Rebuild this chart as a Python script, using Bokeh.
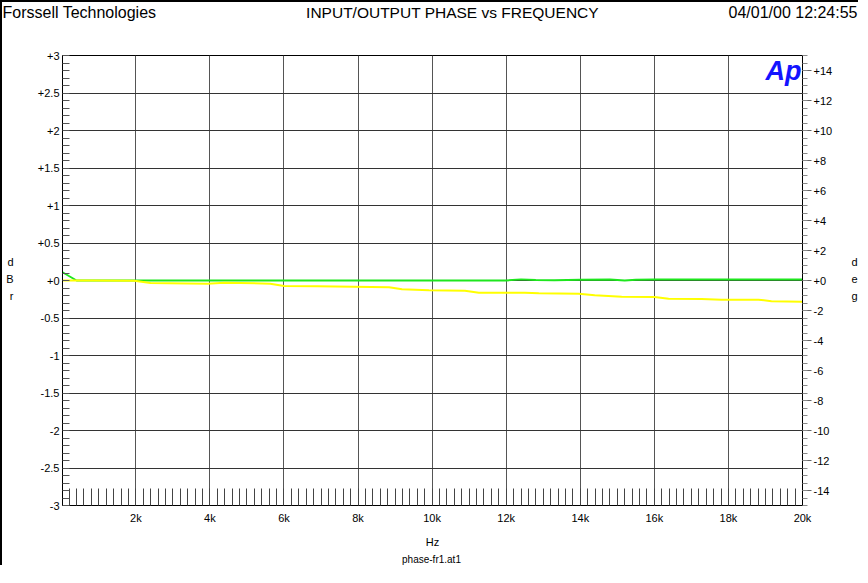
from bokeh.plotting import figure
from bokeh.layouts import column
from bokeh.models import Range1d, LinearAxis, FixedTicker, Label
from bokeh.embed import file_html
from bokeh.resources import INLINE
from bokeh.core.properties import value

# ---------------- data ----------------
green_hz = [20, 400, 1000, 2000, 4000, 6000, 8000, 10000, 12000, 12400, 12800,
            13300, 14000, 14800, 15200, 15500, 16000, 18000, 20000]
green_dbr = [0.11, 0.0, 0.0, 0.0, 0.0, 0.0, 0.0, 0.0, 0.0, 0.015, 0.008,
             0.004, 0.01, 0.012, 0.0, 0.01, 0.012, 0.012, 0.012]

yellow_hz = [20, 829, 1961, 2393, 3929, 4388, 5628, 6005, 6895, 8836, 9187, 9914,
             10885, 11262, 12502, 12880, 13958, 14390, 15118, 16007, 16385, 17274,
             17814, 18811, 19162, 20000]
yellow_deg = [0.0, 0.0, -0.02, -0.17, -0.21, -0.15, -0.21, -0.37, -0.39, -0.45, -0.59,
              -0.65, -0.68, -0.81, -0.81, -0.85, -0.88, -0.98, -1.08, -1.10, -1.21,
              -1.23, -1.28, -1.28, -1.38, -1.41]

x_ticks = [2000, 4000, 6000, 8000, 10000, 12000, 14000, 16000, 18000, 20000]
x_labels = ["2k", "4k", "6k", "8k", "10k", "12k", "14k", "16k", "18k", "20k"]
left_ticks = [-3.0, -2.5, -2.0, -1.5, -1.0, -0.5, 0.0, 0.5, 1.0, 1.5, 2.0, 2.5, 3.0]
left_labels = ["-3", "-2.5", "-2", "-1.5", "-1", "-0.5", "+0", "+0.5", "+1", "+1.5",
               "+2", "+2.5", "+3"]
right_ticks = [-14, -12, -10, -8, -6, -4, -2, 0, 2, 4, 6, 8, 10, 12, 14]
right_labels = ["-14", "-12", "-10", "-8", "-6", "-4", "-2", "+0", "+2", "+4", "+6",
                "+8", "+10", "+12", "+14"]

header_left = "Forssell Technologies"
header_title = "INPUT/OUTPUT PHASE vs FREQUENCY"
header_date = "04/01/00 12:24:55"
x_name = "Hz"
file_name = "phase-fr1.at1"
left_unit = ["d", "B", "r"]
right_unit = ["d", "e", "g"]
logo = "Ap"

# ---------------- layout (page pixels) ----------------
OX = 10                 # page x of canvas left (after 2px border)
HY = 10                 # page y of header canvas top (after 2px border)
W = 858
HH = 45                 # header canvas height
HM = 505                # main canvas height
HF = 567 - 2 - HH - HM  # footer canvas height
MY = HY + HH            # page y of main canvas top
FY = MY + HM            # page y of footer canvas top
FL, FR, FT, FB = 70, 811, 65, 516   # frame edges in page pixels
X0, X1 = 20, 20000
Y0, Y1 = -3, 3
FONT = "Liberation Sans"


def hz(xp):
    return X0 + (xp - FL) * (X1 - X0) / (FR - FL)


def dbr(yp):
    return Y1 - (yp - FT) * (Y1 - Y0) / (FB - FT)


def no_align(fig):
    if "frame_align" in fig.properties():
        fig.frame_align = False


def strip(height, top, styles):
    f = figure(width=W, height=height, x_range=Range1d(OX, OX + W),
               y_range=Range1d(top + height, top), output_backend="svg",
               toolbar_location=None, x_axis_type=None, y_axis_type=None,
               min_border=0, background_fill_color="white",
               border_fill_color="white")
    f.outline_line_color = None
    f.styles = styles
    no_align(f)
    return f


# ---------------- header strip ----------------
hdr = strip(HH, HY, {"border-left": "2px solid black", "border-top": "2px solid black"})
for txt, xp, al, fs in [(header_left, 10, "left", "16px"),
                        (header_title, 460, "center", "15.5px"),
                        (header_date, 736, "left", "16px")]:
    hdr.text(x=[xp], y=[19.5], text=[txt], text_font=value(FONT),
             text_font_size=fs, text_align=al, text_baseline="middle",
             text_color="black")

# ---------------- footer strip ----------------
ftr = strip(HF, FY, {"border-left": "2px solid black"})
ftr.text(x=[439], y=[568.5], text=[file_name], text_font=value(FONT),
         text_font_size="10px", text_align="center", text_baseline="middle",
         text_color="black")

# ---------------- main plot ----------------
p = figure(width=W, height=HM, x_range=Range1d(X0, X1), y_range=Range1d(Y0, Y1),
           output_backend="svg", toolbar_location=None,
           min_border_left=FL - OX, min_border_right=W - (FR - OX),
           min_border_top=FT - MY, min_border_bottom=HM - (FB - MY),
           background_fill_color="white", border_fill_color="white",
           x_axis_location="below", y_axis_location="left")
p.styles = {"border-left": "2px solid black"}
no_align(p)
p.outline_line_color = "black"
p.outline_line_width = 1
p.extra_y_ranges = {"deg": Range1d(-15, 15)}


def plain(axis, size, standoff):
    axis.axis_line_color = None
    axis.major_tick_line_color = None
    axis.minor_tick_line_color = None
    axis.major_tick_in = 0
    axis.major_tick_out = 0
    axis.minor_tick_in = 0
    axis.minor_tick_out = 0
    axis.major_label_standoff = standoff
    axis.major_label_text_font = FONT
    axis.major_label_text_font_size = size
    axis.major_label_text_color = "black"


# x axis
xa = p.xaxis[0]
xa.ticker = FixedTicker(ticks=x_ticks, minor_ticks=[200 * i for i in range(1, 100)])
xa.major_label_overrides = {t: l for t, l in zip(x_ticks, x_labels)}
xa.axis_line_color = "black"
xa.major_tick_in = 0
xa.major_tick_out = 0
xa.minor_tick_in = 17
xa.minor_tick_out = 0
xa.minor_tick_line_color = "#444444"
xa.major_label_standoff = 6
xa.major_label_text_font = FONT
xa.major_label_text_font_size = "11px"
xa.major_label_text_color = "black"
xa.axis_label = x_name
xa.axis_label_text_font = FONT
xa.axis_label_text_font_size = "11px"
xa.axis_label_text_font_style = "normal"
xa.axis_label_text_color = "black"
xa.axis_label_standoff = 9

# left axis
ya = p.yaxis[0]
ya.ticker = FixedTicker(ticks=left_ticks,
                        minor_ticks=[round(-3 + 0.1 * i, 1) for i in range(61)])
ya.major_label_overrides = {t: l for t, l in zip(left_ticks, left_labels)}
ya.axis_line_color = "black"
ya.major_tick_in = 0
ya.major_tick_out = 0
ya.minor_tick_in = 7
ya.minor_tick_out = 0
ya.minor_tick_line_color = "#555555"
ya.major_label_standoff = 3
ya.major_label_text_font = FONT
ya.major_label_text_font_size = "11px"
ya.major_label_text_color = "black"

# "d B r" stacked letters
ly = [dbr(272), dbr(289), dbr(306)]
la = LinearAxis(ticker=FixedTicker(ticks=ly))
la.major_label_overrides = {t: c for t, c in zip(ly, left_unit)}
plain(la, "11px", 21)
p.add_layout(la, "left")

# right axis (degrees)
ra = LinearAxis(y_range_name="deg",
                ticker=FixedTicker(ticks=right_ticks,
                                   minor_ticks=[-15 + 0.5 * i for i in range(61)]))
ra.major_label_overrides = {t: l for t, l in zip(right_ticks, right_labels)}
ra.axis_line_color = "black"
ra.major_tick_in = 0
ra.major_tick_out = 9
ra.minor_tick_in = 0
ra.minor_tick_out = 5
ra.major_tick_line_color = "#666666"
ra.minor_tick_line_color = "#888888"
ra.major_label_standoff = 2
ra.major_label_text_font = FONT
ra.major_label_text_font_size = "11px"
ra.major_label_text_color = "black"
p.add_layout(ra, "right")

# "d e g" stacked letters
ry = [dbr(272), dbr(289), dbr(306)]
rl = LinearAxis(ticker=FixedTicker(ticks=ry))
rl.major_label_overrides = {t: c for t, c in zip(ry, right_unit)}
plain(rl, "11px", 16)
p.add_layout(rl, "right")

# grids
p.xgrid.ticker = FixedTicker(ticks=x_ticks)
p.ygrid.ticker = FixedTicker(ticks=left_ticks)
p.xgrid.grid_line_color = "#555555"
p.ygrid.grid_line_color = "#333333"
p.xgrid.grid_line_width = 1
p.ygrid.grid_line_width = 1

# data lines
p.line(green_hz, green_dbr, line_color="#1ee61e", line_width=2)
p.line(yellow_hz, yellow_deg, y_range_name="deg", line_color="#ffff00", line_width=2)

# Ap logo (inside the frame)
p.add_layout(Label(x=hz(792), y=dbr(81), text=logo, text_font=FONT,
                   text_font_size="27px", text_align="center",
                   text_baseline="middle", text_font_style="bold italic",
                   text_color="#1414ff"))

layout = column(hdr, p, ftr, spacing=0)
open("out.html", "w").write(file_html(layout, INLINE))
